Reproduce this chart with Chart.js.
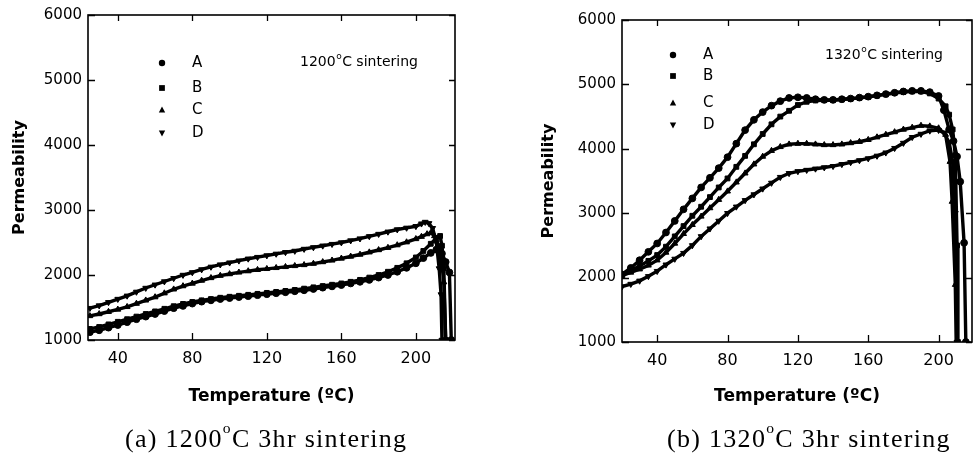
<!DOCTYPE html>
<html><head><meta charset="utf-8">
<script src="https://cdn.jsdelivr.net/npm/chart.js@4.4.1/dist/chart.umd.min.js"></script>
<style>
body{margin:0;background:#fff;width:977px;height:455px;overflow:hidden;position:relative}
canvas{position:absolute;top:0}
#cL{left:0}
#cR{left:530px}
.cap{position:absolute;top:413px;font-family:"Liberation Serif","Times New Roman",serif;font-size:26px;letter-spacing:1.3px;color:#000;white-space:nowrap;line-height:30px}
.cap span{font-size:60%;vertical-align:48%}
</style></head><body>
<canvas id="cL" width="470" height="455"></canvas>
<canvas id="cR" width="447" height="455"></canvas>
<div class="cap" style="left:125px">(a) 1200<span>o</span>C 3hr sintering</div>
<div class="cap" style="left:667px">(b) 1320<span>o</span>C 3hr sintering</div>
<script>
// ---------- data ----------
const seriesNames = ['A','B','C','D'];
const xTickValues = [40,80,120,160,200];

// (a) 1200C
const leftTemps = [25,30,35,40,45,50,55,60,65,70,75,80,85,90,95,100,105,110,115,120,125,130,135,140,145,150,155,160,165,170,175,180,185,190,195,200];
const leftA = [1120,1150,1190,1230,1275,1320,1360,1400,1445,1490,1525,1560,1590,1610,1630,1645,1660,1675,1690,1705,1720,1735,1750,1765,1785,1805,1825,1845,1870,1895,1925,1960,2000,2050,2110,2180];
const leftB = [1170,1200,1240,1280,1320,1360,1400,1440,1480,1520,1555,1585,1610,1630,1650,1665,1680,1695,1710,1725,1740,1755,1770,1790,1810,1830,1850,1870,1895,1925,1960,2000,2050,2110,2180,2270];
const leftC = [1370,1400,1435,1470,1510,1560,1610,1660,1720,1780,1830,1870,1915,1955,1990,2015,2040,2060,2080,2095,2110,2125,2140,2155,2175,2200,2225,2255,2285,2315,2350,2385,2420,2460,2505,2555];
const leftD = [1490,1530,1580,1630,1680,1740,1800,1850,1900,1950,2000,2040,2085,2125,2160,2190,2220,2250,2275,2300,2325,2350,2370,2400,2425,2450,2475,2500,2530,2560,2595,2630,2665,2700,2725,2750];
const leftTailTA = [204,208,211,212.5,214,216,218,219];
const leftTailA  = [2260,2340,2390,2400,2330,2200,2040,1000];
const leftTailTB = [204,208,211,213,214,215,216];
const leftTailB  = [2370,2480,2570,2600,2450,2100,1000];
const leftTailTC = [203,206,208,210,212,214,215,216];
const leftTailC  = [2590,2630,2650,2600,2450,2150,1890,1000];
const leftTailTD = [203,205,207,209,211,212.5,213.5,214];
const leftTailD  = [2790,2815,2795,2720,2500,2100,1700,1000];

// (b) 1320C
const rightTemps = [20,25,30,35,40,45,50,55,60,65,70,75,80,85,90,95,100,105,110,115,120,125,130,135,140,145,150,155,160,165,170,175,180,185,190,195,200];
const rightA = [2050,2150,2270,2400,2530,2700,2880,3060,3230,3400,3550,3700,3870,4080,4290,4450,4570,4670,4740,4790,4800,4790,4770,4760,4760,4770,4780,4795,4810,4830,4850,4870,4890,4900,4900,4880,4820];
const rightB = [2050,2110,2180,2260,2350,2480,2640,2800,2960,3100,3250,3400,3540,3720,3890,4070,4230,4380,4500,4590,4680,4730,4750,4755,4755,4765,4775,4790,4805,4825,4845,4865,4880,4890,4890,4860,4780];
const rightC = [2030,2080,2130,2190,2270,2390,2530,2680,2820,2950,3080,3210,3340,3480,3620,3760,3880,3970,4030,4070,4080,4080,4070,4060,4060,4070,4090,4110,4140,4180,4220,4260,4300,4330,4360,4350,4320];
const rightD = [1860,1900,1950,2020,2100,2200,2290,2380,2500,2640,2760,2880,3000,3100,3200,3290,3380,3470,3560,3620,3650,3670,3690,3710,3730,3760,3790,3820,3850,3890,3940,4010,4090,4180,4230,4280,4290];
const rightTailTA = [203,206,208.5,210.5,212.3,214.5,215.5];
const rightTailA  = [4600,4300,4120,3880,3490,2540,1000];
const rightTailTB = [204,206,208,209.5,210.5,211];
const rightTailB  = [4660,4530,4300,3900,2500,1000];
const rightTailTC = [204,206.5,207.7,209.5,210];
const rightTailC  = [4220,3800,3180,1890,1000];
const rightTailTD = [203,206,208,209.5,210.5];
const rightTailD  = [4250,4100,3800,3000,1000];

// ---------- helpers ----------
const styles = [
  {pointStyle:'circle', rotation:0},
  {pointStyle:'rect', rotation:0},
  {pointStyle:'triangle', rotation:0},
  {pointStyle:'triangle', rotation:180}
];
function pts(temps, vals, tT, tV){
  return temps.map((t,i)=>({x:t,y:vals[i]})).concat(tT.map((t,i)=>({x:t,y:tV[i]})));
}
function drawMarker(ctx, style, x, y, r){
  ctx.beginPath();
  if(style.pointStyle==='circle'){ ctx.arc(x,y,r,0,Math.PI*2); }
  else if(style.pointStyle==='rect'){ ctx.rect(x-r*0.9,y-r*0.9,r*1.8,r*1.8); }
  else { const s = style.rotation===180?-1:1; ctx.moveTo(x,y-s*r*1.1); ctx.lineTo(x+r,y+s*r*0.8); ctx.lineTo(x-r,y+s*r*0.8); ctx.closePath(); }
  ctx.fill();
}
const framePlugin = {
  id:'frame',
  afterDatasetsDraw(chart, args, o){
    const {ctx, chartArea:a, scales:{x,y}} = chart;
    ctx.save();
    ctx.strokeStyle='#000'; ctx.fillStyle='#000';
    ctx.lineWidth=1.6;
    ctx.strokeRect(a.left, a.top, a.right-a.left, a.bottom-a.top);
    ctx.lineWidth=1.3;
    ctx.beginPath();
    x.ticks.forEach(t=>{const px=Math.round(x.getPixelForValue(t.value))+0.5;
      ctx.moveTo(px,a.bottom); ctx.lineTo(px,a.bottom-7);
      ctx.moveTo(px,a.top); ctx.lineTo(px,a.top+6);});
    y.ticks.forEach(t=>{const py=Math.round(y.getPixelForValue(t.value))+0.5;
      ctx.moveTo(a.left,py); ctx.lineTo(a.left+7,py);
      ctx.moveTo(a.right,py); ctx.lineTo(a.right-6,py);});
    ctx.stroke();
    // legend
    ctx.font = '15px "DejaVu Sans", sans-serif';
    ctx.textBaseline='middle'; ctx.textAlign='left';
    chart.data.datasets.forEach((ds,i)=>{
      const yy = a.top + o.rows[i];
      drawMarker(ctx, styles[i], a.left+o.mx, yy, 3.2);
      ctx.fillText(ds.label, a.left+o.lx, yy);
    });
    ctx.font = '14px "DejaVu Sans", sans-serif';
    const nx = a.left+o.nx, ny = a.top+o.ny;
    ctx.fillText(o.num, nx, ny);
    const w1 = ctx.measureText(o.num).width;
    ctx.font = '9px "DejaVu Sans", sans-serif';
    ctx.fillText('o', nx+w1+0.5, ny-5);
    const w2 = ctx.measureText('o').width;
    ctx.font = '14px "DejaVu Sans", sans-serif';
    ctx.fillText('C sintering', nx+w1+w2+1, ny);
    ctx.restore();
  }
};

function makeChart(id, temps, series, tails, xmin, xmax, padTop, padRight, yAxisW, xAxisH, yTitlePad, leg){
  const datasets = series.map((vals,i)=>({
    label: seriesNames[i],
    data: pts(temps, vals, tails[i][0], tails[i][1]),
    showLine:true,
    borderColor:'#000', backgroundColor:'#000',
    borderWidth:3.4,
    pointRadius:3.4, pointBorderWidth:1,
    pointStyle: styles[i].pointStyle, pointRotation: styles[i].rotation,
    pointBackgroundColor:'#000', pointBorderColor:'#000'
  }));
  return new Chart(document.getElementById(id), {
    type:'scatter',
    data:{datasets},
    options:{
      responsive:false, animation:false,
      layout:{padding:{top:padTop, right:padRight, left:0, bottom:45}},
      plugins:{legend:{display:false}, tooltip:{enabled:false}, frame:leg},
      scales:{
        x:{type:'linear', min:xmin, max:xmax,
           afterBuildTicks:(s)=>{s.ticks = xTickValues.map(v=>({value:v}));},
           afterFit:(s)=>{s.height = xAxisH;},
           grid:{display:false, drawTicks:false}, border:{display:false},
           ticks:{color:'#000', padding:9, font:{family:'"DejaVu Sans", sans-serif', size:16},
                  callback:(v)=>String(v)},
           title:{display:true, text:'Temperature (ºC)', color:'#000', padding:{top:0,bottom:3},
                  font:{family:'"DejaVu Sans", sans-serif', size:17, weight:'bold'}}},
        y:{type:'linear', min:1000, max:6000,
           ticks:{stepSize:1000, color:'#000', padding:6, font:{family:'"DejaVu Sans", sans-serif', size:15},
                  callback:(v)=>String(v)},
           afterFit:(s)=>{s.width = yAxisW;},
           grid:{display:false, drawTicks:false}, border:{display:false},
           title:{display:true, text:'Permeability', color:'#000', padding:{top:yTitlePad,bottom:0},
                  font:{family:'"DejaVu Sans", sans-serif', size:16, weight:'bold'}}}
      }
    },
    plugins:[framePlugin]
  });
}

makeChart('cL', leftTemps, [leftA,leftB,leftC,leftD],
  [[leftTailTA,leftTailA],[leftTailTB,leftTailB],[leftTailTC,leftTailC],[leftTailTD,leftTailD]],
  24, 221, 14, 15, 88, 70, 10,
  {mx:74, lx:104, rows:[48,73,95,118], nx:212, ny:47, num:'1200'});

makeChart('cR', rightTemps, [rightA,rightB,rightC,rightD],
  [[rightTailTA,rightTailA],[rightTailTB,rightTailB],[rightTailTC,rightTailC],[rightTailTD,rightTailD]],
  20, 219, 20, 1, 92, 68, 9,
  {mx:51, lx:81, rows:[35,56,83,105], nx:203, ny:35, num:'1320'});
</script>
</body></html>
